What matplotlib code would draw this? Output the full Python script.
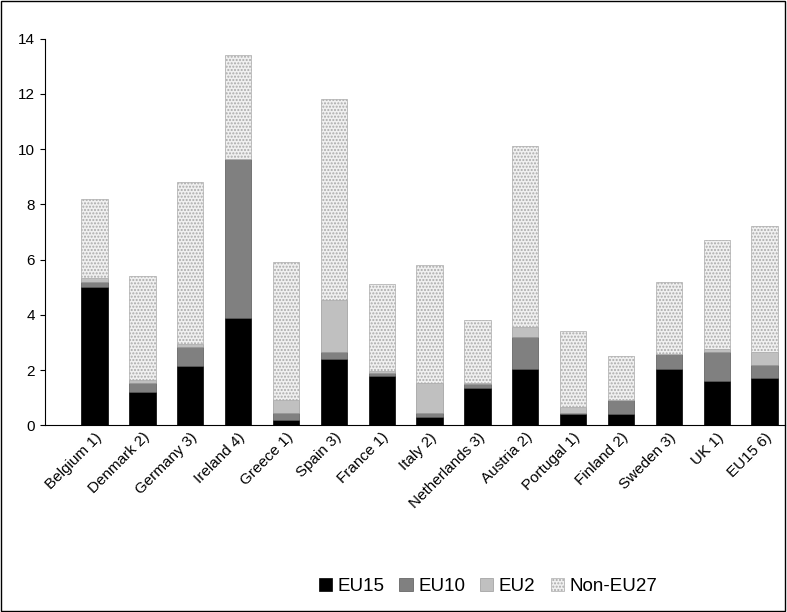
import matplotlib.pyplot as plt
import numpy as np

countries = ['Belgium 1)', 'Denmark 2)', 'Germany 3)', 'Ireland 4)', 'Greece 1)',
             'Spain 3)', 'France 1)', 'Italy 2)', 'Netherlands 3)', 'Austria 2)',
             'Portugal 1)', 'Finland 2)', 'Sweden 3)', 'UK 1)', 'EU15 6)']
# cumulative tops
top_eu15 = [5.0, 1.2, 2.15, 3.9, 0.2, 2.4, 1.8, 0.3, 1.35, 2.05, 0.4, 0.4, 2.05, 1.6, 1.7]
top_eu10 = [5.2, 1.55, 2.85, 9.65, 0.45, 2.65, 1.9, 0.45, 1.5, 3.2, 0.45, 0.9, 2.6, 2.65, 2.2]
top_eu2 = [5.35, 1.65, 2.95, 9.65, 0.9, 4.55, 1.95, 1.55, 1.55, 3.55, 0.65, 0.9, 2.6, 2.75, 2.65]
top_total = [8.2, 5.4, 8.8, 13.4, 5.9, 11.8, 5.1, 5.8, 3.8, 10.1, 3.4, 2.5, 5.2, 6.7, 7.2]

eu15 = np.array(top_eu15)
eu10 = np.array(top_eu10) - eu15
eu2 = np.array(top_eu2) - np.array(top_eu10)
non = np.array(top_total) - np.array(top_eu2)

plt.rcParams['font.family'] = 'Liberation Sans'
plt.rcParams['hatch.color'] = '#c8c8c8'
fig = plt.figure(figsize=(7.87, 6.12), dpi=100)
ax = fig.add_axes([0.057, 0.305, 0.94, 0.632])
x = np.arange(len(countries))
w = 0.55
ax.bar(x, eu15, w, color='black', edgecolor='black', lw=0.5, label='EU15')
ax.bar(x, eu10, w, bottom=eu15, color='#808080', edgecolor='#555555', lw=0.5, label='EU10')
ax.bar(x, eu2, w, bottom=eu15 + eu10, color='#c0c0c0', edgecolor='#999999', lw=0.5, label='EU2')
ax.bar(x, non, w, bottom=eu15 + eu10 + eu2, color='#f0f0f0', edgecolor='#aaaaaa',
       hatch='.....', lw=0.5, label='Non-EU27')

ax.set_xlim(-1.04, 14.42)
ax.set_ylim(0, 14)
ax.set_yticks(range(0, 15, 2))
ax.set_xticks(x)
ax.set_xticklabels(countries, rotation=45, ha='right', rotation_mode='anchor', fontsize=11)
ax.tick_params(axis='y', labelsize=11)
ax.tick_params(axis='x', length=0)
for s in ['top', 'right']:
    ax.spines[s].set_visible(False)

fig.legend(loc='lower center', ncol=4, frameon=False, fontsize=13.5,
           bbox_to_anchor=(0.62, 0.0), handlelength=0.7, handleheight=0.7,
           columnspacing=0.8, handletextpad=0.3)
fig.patches.append(plt.Rectangle((0.001, 0.001), 0.997, 0.997, transform=fig.transFigure,
                                 fill=False, edgecolor='black', lw=1))
fig.savefig('out.png')
